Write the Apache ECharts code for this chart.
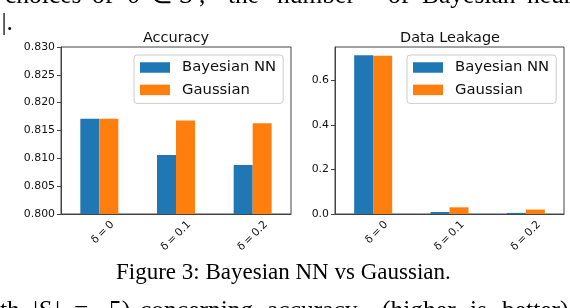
<!DOCTYPE html>
<html>
<head>
<meta charset="utf-8">
<script src="https://cdn.jsdelivr.net/npm/echarts/dist/echarts.min.js"></script>
<style>
html,body{margin:0;padding:0;background:#fff;}
#c{width:570px;height:308px;}
</style>
</head>
<body>
<div id="c"></div>
<script>
// ---- data ----
const categories = ['δ\u2009=\u20090', 'δ\u2009=\u20090.1', 'δ\u2009=\u20090.2'];
const seriesNames = ['Bayesian NN', 'Gaussian'];
const bnnAccuracy = [0.8171, 0.8106, 0.8088];
const gaussAccuracy = [0.8171, 0.8168, 0.8163];
const bnnLeakage = [0.713, 0.009, 0.005];
const gaussLeakage = [0.711, 0.030, 0.020];
const panelTitles = ['Accuracy', 'Data Leakage'];
const accTicks = { min: 0.800, max: 0.830, step: 0.005 };
const leakTicks = { min: 0, max: 0.75, step: 0.2 };
const caption = 'Figure 3: Bayesian NN vs Gaussian.';
const paperTopWords = ['choices', 'of', 'δ', '∈', 'S', ',', 'the', 'number', 'of', 'Bayesian', 'neural'];
const paperLeft = '|.';
const paperBottomWords = ['th', '|', 'S', '|', '=', '5)', 'concerning', 'accuracy', '(higher', 'is', 'better)'];

// ---- layout of the surrounding (justified) paper text ----
const topWordX = [5, 92, 128, 150, 180, 199, 228, 277, 388, 422, 527];
const topItalic = [2, 4];
const bottomWordX = [0, 33, 38, 55, 74, 109, 140, 267, 382, 470, 502];
const bottomItalic = [2];

// ---- chart ----
const chart = echarts.init(document.getElementById('c'), null, {renderer: 'canvas'});
const FONT = 'DejaVu Sans';
const SERIF = '"Liberation Serif", "Times New Roman", serif';
const spine = '#444';
const blue = '#1f77b4', orange = '#ff7f0e';
const BODY = 25.5;

function xAxisFor(gi) {
  return {
    gridIndex: gi, type: 'category', data: categories,
    axisLine: {lineStyle: {color: spine, width: 1}},
    axisTick: {alignWithLabel: true, length: 4, lineStyle: {color: spine}},
    axisLabel: {
      rotate: 45, align: 'center', verticalAlign: 'middle', margin: 22,
      fontFamily: FONT, fontSize: 10.8, color: '#111',
      formatter: (v, i) => i === 0 ? '{s|' + v + '}' : '{n|' + v + '}',
      rich: {s: {padding: [0, 0, 0, 10], fontFamily: FONT, fontSize: 10.8, color: '#111'},
             n: {fontFamily: FONT, fontSize: 10.8, color: '#111'}}
    }
  };
}
function yAxisFor(gi, t, dec) {
  return {
    gridIndex: gi, type: 'value', min: t.min, max: t.max, interval: t.step,
    splitLine: {show: false},
    axisLine: {show: true, lineStyle: {color: spine, width: 1}},
    axisTick: {show: true, length: 4, lineStyle: {color: spine}},
    axisLabel: {
      margin: 6, fontFamily: FONT, fontSize: 10.9, color: '#111',
      showMaxLabel: dec === 3,
      formatter: v => v.toFixed(dec)
    }
  };
}
function legendFor(left) {
  return {
    data: seriesNames, orient: 'vertical', left: left, top: 55,
    itemWidth: 30, itemHeight: 10.5, itemGap: 7.4,
    padding: [5, 7, 6, 6],
    borderColor: '#cccccc', borderWidth: 1, borderRadius: 3,
    backgroundColor: 'rgba(255,255,255,0.8)',
    icon: 'rect',
    textStyle: {fontFamily: FONT, fontSize: 14.8, color: '#111', padding: [0, 0, 0, 7]}
  };
}
function bar(name, gi, data, color) {
  return {
    name: name, type: 'bar', xAxisIndex: gi, yAxisIndex: gi, data: data,
    barWidth: 19, barGap: '0%', itemStyle: {color: color},
    emphasis: {disabled: true}, animation: false
  };
}
function words(list, xs, italic, top) {
  return list.map((w, i) => ({
    type: 'text', left: xs[i], top: top, silent: true,
    style: {text: w, font: (italic.includes(i) ? 'italic ' : '') + BODY + 'px ' + SERIF, fill: '#000'}
  }));
}

const option = {
  animation: false,
  textStyle: {fontFamily: FONT},
  grid: [
    {left: 61, top: 47, width: 230, height: 167, show: true, borderColor: spine, borderWidth: 1},
    {left: 335, top: 47, width: 229, height: 167, show: true, borderColor: spine, borderWidth: 1}
  ],
  title: [
    {text: panelTitles[0], left: 176, top: 31, textAlign: 'center',
     textStyle: {fontFamily: FONT, fontSize: 14.5, fontWeight: 'normal', color: '#111'}, padding: 0},
    {text: panelTitles[1], left: 450, top: 31, textAlign: 'center',
     textStyle: {fontFamily: FONT, fontSize: 14.5, fontWeight: 'normal', color: '#111'}, padding: 0}
  ],
  legend: [legendFor(134), legendFor(407)],
  xAxis: [xAxisFor(0), xAxisFor(1)],
  yAxis: [yAxisFor(0, accTicks, 3), yAxisFor(1, leakTicks, 1)],
  series: [
    bar(seriesNames[0], 0, bnnAccuracy, blue),
    bar(seriesNames[1], 0, gaussAccuracy, orange),
    bar(seriesNames[0], 1, bnnLeakage, blue),
    bar(seriesNames[1], 1, gaussLeakage, orange)
  ],
  graphic: [].concat(
    words(paperTopWords, topWordX, topItalic, -17),
    [{type: 'text', left: 1.5, top: 10.5, silent: true,
      style: {text: paperLeft, font: BODY + 'px ' + SERIF, fill: '#000'}},
     {type: 'text', left: 116, top: 261, silent: true,
      style: {text: caption, font: '23px ' + SERIF, fill: '#000'}}],
    words(paperBottomWords, bottomWordX, bottomItalic, 298.5)
  )
};
chart.setOption(option);
</script>
</body>
</html>
